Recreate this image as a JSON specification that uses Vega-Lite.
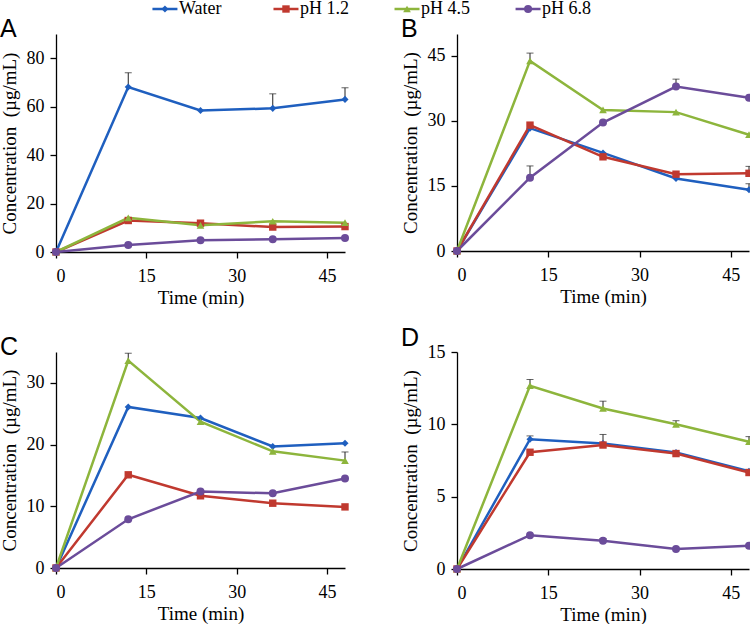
{
  "$schema": "https://vega.github.io/schema/vega-lite/v6.json",
  "background": "white",
  "padding": {"left": 0, "top": 0, "right": 0, "bottom": 0},
  "data": {
    "values": [
      {"panel": "A", "series": "Water", "time": 0, "value": 0, "err": null},
      {"panel": "A", "series": "Water", "time": 12, "value": 68.1, "err": 74.0},
      {"panel": "A", "series": "Water", "time": 24, "value": 58.4, "err": null},
      {"panel": "A", "series": "Water", "time": 36, "value": 59.3, "err": 65.3},
      {"panel": "A", "series": "Water", "time": 48, "value": 63.0, "err": 67.8},
      {"panel": "A", "series": "pH 1.2", "time": 0, "value": 0, "err": null},
      {"panel": "A", "series": "pH 1.2", "time": 12, "value": 13.0, "err": null},
      {"panel": "A", "series": "pH 1.2", "time": 24, "value": 11.9, "err": null},
      {"panel": "A", "series": "pH 1.2", "time": 36, "value": 10.3, "err": null},
      {"panel": "A", "series": "pH 1.2", "time": 48, "value": 10.5, "err": null},
      {"panel": "A", "series": "pH 4.5", "time": 0, "value": 0, "err": null},
      {"panel": "A", "series": "pH 4.5", "time": 12, "value": 14.1, "err": null},
      {"panel": "A", "series": "pH 4.5", "time": 24, "value": 11.0, "err": null},
      {"panel": "A", "series": "pH 4.5", "time": 36, "value": 12.7, "err": null},
      {"panel": "A", "series": "pH 4.5", "time": 48, "value": 12.1, "err": null},
      {"panel": "A", "series": "pH 6.8", "time": 0, "value": 0, "err": null},
      {"panel": "A", "series": "pH 6.8", "time": 12, "value": 2.9, "err": null},
      {"panel": "A", "series": "pH 6.8", "time": 24, "value": 4.8, "err": null},
      {"panel": "A", "series": "pH 6.8", "time": 36, "value": 5.3, "err": null},
      {"panel": "A", "series": "pH 6.8", "time": 48, "value": 5.75, "err": null},

      {"panel": "B", "series": "Water", "time": 0, "value": 0, "err": null},
      {"panel": "B", "series": "Water", "time": 12, "value": 28.3, "err": null},
      {"panel": "B", "series": "Water", "time": 24, "value": 22.6, "err": null},
      {"panel": "B", "series": "Water", "time": 36, "value": 16.7, "err": null},
      {"panel": "B", "series": "Water", "time": 48, "value": 14.1, "err": 15.5},
      {"panel": "B", "series": "pH 1.2", "time": 0, "value": 0, "err": null},
      {"panel": "B", "series": "pH 1.2", "time": 12, "value": 29.0, "err": null},
      {"panel": "B", "series": "pH 1.2", "time": 24, "value": 21.7, "err": null},
      {"panel": "B", "series": "pH 1.2", "time": 36, "value": 17.7, "err": null},
      {"panel": "B", "series": "pH 1.2", "time": 48, "value": 17.9, "err": 19.5},
      {"panel": "B", "series": "pH 4.5", "time": 0, "value": 0, "err": null},
      {"panel": "B", "series": "pH 4.5", "time": 12, "value": 43.8, "err": 45.6},
      {"panel": "B", "series": "pH 4.5", "time": 24, "value": 32.5, "err": null},
      {"panel": "B", "series": "pH 4.5", "time": 36, "value": 32.0, "err": null},
      {"panel": "B", "series": "pH 4.5", "time": 48, "value": 26.8, "err": null},
      {"panel": "B", "series": "pH 6.8", "time": 0, "value": 0, "err": null},
      {"panel": "B", "series": "pH 6.8", "time": 12, "value": 16.9, "err": 19.6},
      {"panel": "B", "series": "pH 6.8", "time": 24, "value": 29.6, "err": null},
      {"panel": "B", "series": "pH 6.8", "time": 36, "value": 37.9, "err": 39.6},
      {"panel": "B", "series": "pH 6.8", "time": 48, "value": 35.3, "err": null},

      {"panel": "C", "series": "Water", "time": 0, "value": 0, "err": null},
      {"panel": "C", "series": "Water", "time": 12, "value": 26.1, "err": null},
      {"panel": "C", "series": "Water", "time": 24, "value": 24.3, "err": null},
      {"panel": "C", "series": "Water", "time": 36, "value": 19.7, "err": null},
      {"panel": "C", "series": "Water", "time": 48, "value": 20.2, "err": null},
      {"panel": "C", "series": "pH 1.2", "time": 0, "value": 0, "err": null},
      {"panel": "C", "series": "pH 1.2", "time": 12, "value": 15.1, "err": null},
      {"panel": "C", "series": "pH 1.2", "time": 24, "value": 11.7, "err": null},
      {"panel": "C", "series": "pH 1.2", "time": 36, "value": 10.5, "err": null},
      {"panel": "C", "series": "pH 1.2", "time": 48, "value": 9.9, "err": null},
      {"panel": "C", "series": "pH 4.5", "time": 0, "value": 0, "err": null},
      {"panel": "C", "series": "pH 4.5", "time": 12, "value": 33.6, "err": 34.8},
      {"panel": "C", "series": "pH 4.5", "time": 24, "value": 23.7, "err": null},
      {"panel": "C", "series": "pH 4.5", "time": 36, "value": 18.9, "err": null},
      {"panel": "C", "series": "pH 4.5", "time": 48, "value": 17.4, "err": 18.8},
      {"panel": "C", "series": "pH 6.8", "time": 0, "value": 0, "err": null},
      {"panel": "C", "series": "pH 6.8", "time": 12, "value": 7.9, "err": null},
      {"panel": "C", "series": "pH 6.8", "time": 24, "value": 12.4, "err": null},
      {"panel": "C", "series": "pH 6.8", "time": 36, "value": 12.1, "err": null},
      {"panel": "C", "series": "pH 6.8", "time": 48, "value": 14.5, "err": null},

      {"panel": "D", "series": "Water", "time": 0, "value": 0, "err": null},
      {"panel": "D", "series": "Water", "time": 12, "value": 8.97, "err": 9.2},
      {"panel": "D", "series": "Water", "time": 24, "value": 8.67, "err": 9.3},
      {"panel": "D", "series": "Water", "time": 36, "value": 8.05, "err": null},
      {"panel": "D", "series": "Water", "time": 48, "value": 6.76, "err": null},
      {"panel": "D", "series": "pH 1.2", "time": 0, "value": 0, "err": null},
      {"panel": "D", "series": "pH 1.2", "time": 12, "value": 8.07, "err": null},
      {"panel": "D", "series": "pH 1.2", "time": 24, "value": 8.57, "err": null},
      {"panel": "D", "series": "pH 1.2", "time": 36, "value": 7.98, "err": null},
      {"panel": "D", "series": "pH 1.2", "time": 48, "value": 6.67, "err": null},
      {"panel": "D", "series": "pH 4.5", "time": 0, "value": 0, "err": null},
      {"panel": "D", "series": "pH 4.5", "time": 12, "value": 12.67, "err": 13.1},
      {"panel": "D", "series": "pH 4.5", "time": 24, "value": 11.1, "err": 11.6},
      {"panel": "D", "series": "pH 4.5", "time": 36, "value": 10.0, "err": 10.25},
      {"panel": "D", "series": "pH 4.5", "time": 48, "value": 8.8, "err": 9.15},
      {"panel": "D", "series": "pH 6.8", "time": 0, "value": 0, "err": null},
      {"panel": "D", "series": "pH 6.8", "time": 12, "value": 2.34, "err": null},
      {"panel": "D", "series": "pH 6.8", "time": 24, "value": 1.95, "err": 2.1},
      {"panel": "D", "series": "pH 6.8", "time": 36, "value": 1.38, "err": null},
      {"panel": "D", "series": "pH 6.8", "time": 48, "value": 1.61, "err": null}
    ]
  },
  "spacing": -1,
  "center": false,
  "vconcat": [
    {
      "width": 581, "height": 18,
      "transform": [{"filter": "datum.panel == 'A' && datum.time == 0"}],
      "encoding": {
        "x": {"field": "series", "type": "nominal", "scale": {"type": "point", "domain": ["Water", "pH 1.2", "pH 4.5", "pH 6.8"], "padding": 0.9}, "axis": null},
        "y": {"field": "value", "type": "quantitative", "scale": {"domain": [-1, 1]}, "axis": null},
        "color": {"field": "series", "type": "nominal", "scale": {"domain": ["Water", "pH 1.2", "pH 4.5", "pH 6.8"], "range": ["#1f5fbf", "#c0392f", "#8db53c", "#6b4c9a"]}, "legend": null}
      },
      "layer": [
        {"mark": {"type": "rule", "strokeWidth": 2.5, "xOffset": -12.5, "x2Offset": 12.5}, "encoding": {"x2": {"field": "series"}}},
        {"mark": {"type": "point", "filled": true, "opacity": 1},
          "encoding": {
            "shape": {"field": "series", "type": "nominal", "scale": {"domain": ["Water", "pH 1.2", "pH 4.5", "pH 6.8"], "range": ["diamond", "square", "triangle-up", "circle"]}, "legend": null},
            "size": {"field": "series", "type": "ordinal", "scale": {"domain": ["Water", "pH 1.2", "pH 4.5", "pH 6.8"], "range": [50, 64, 72, 70]}, "legend": null}
          }},
        {"mark": {"type": "text", "align": "left", "baseline": "middle", "dx": 14, "font": "Liberation Serif", "fontSize": 18}, "encoding": {"text": {"field": "series"}, "color": {"value": "black"}}}
      ]
    },
    {
      "columns": 2,
      "spacing": {"row": 19, "column": 51},
      "concat": [
        {
          "width": 289, "height": 218,
          "title": {"text": "A"},
          "transform": [{"filter": "datum.panel == 'A'"}],
          "encoding": {
            "x": {"field": "time", "type": "quantitative", "title": "Time (min)", "scale": {"domain": [0, 48], "nice": false}, "axis": {"values": [0, 15, 30, 45]}},
            "y": {"field": "value", "type": "quantitative", "title": "Concentration\u00a0\u00a0(µg/mL)", "scale": {"domain": [0, 90], "nice": false}, "axis": {"values": [0, 20, 40, 60, 80]}},
            "color": {"field": "series", "type": "nominal", "legend": null}
          },
          "layer": [
            {"transform": [{"filter": "datum.err != null"}], "mark": {"type": "rule", "strokeWidth": 1}, "encoding": {"y2": {"field": "err"}, "color": {"value": "#222222"}}},
            {"transform": [{"filter": "datum.err != null"}], "mark": {"type": "tick", "orient": "horizontal", "size": 7, "thickness": 1}, "encoding": {"y": {"field": "err", "type": "quantitative", "title": "Concentration\u00a0\u00a0(µg/mL)"}, "color": {"value": "#222222"}}},
            {"mark": {"type": "line", "strokeWidth": 2.5}},
            {"mark": {"type": "point", "filled": true, "opacity": 1},
              "encoding": {
                "shape": {"field": "series", "type": "nominal", "legend": null},
                "size": {"field": "series", "type": "ordinal", "legend": null}
              }}
          ]
        },
        {
          "width": 292, "height": 217,
          "title": {"text": "B"},
          "transform": [{"filter": "datum.panel == 'B'"}],
          "encoding": {
            "x": {"field": "time", "type": "quantitative", "title": "Time (min)", "scale": {"domain": [0, 48], "nice": false}, "axis": {"values": [0, 15, 30, 45]}},
            "y": {"field": "value", "type": "quantitative", "title": "Concentration\u00a0\u00a0(µg/mL)", "scale": {"domain": [0, 50], "nice": false}, "axis": {"values": [0, 15, 30, 45]}},
            "color": {"field": "series", "type": "nominal", "legend": null}
          },
          "layer": [
            {"transform": [{"filter": "datum.err != null"}], "mark": {"type": "rule", "strokeWidth": 1}, "encoding": {"y2": {"field": "err"}, "color": {"value": "#222222"}}},
            {"transform": [{"filter": "datum.err != null"}], "mark": {"type": "tick", "orient": "horizontal", "size": 7, "thickness": 1}, "encoding": {"y": {"field": "err", "type": "quantitative", "title": "Concentration\u00a0\u00a0(µg/mL)"}, "color": {"value": "#222222"}}},
            {"mark": {"type": "line", "strokeWidth": 2.5}},
            {"mark": {"type": "point", "filled": true, "opacity": 1},
              "encoding": {
                "shape": {"field": "series", "type": "nominal", "legend": null},
                "size": {"field": "series", "type": "ordinal", "legend": null}
              }}
          ]
        },
        {
          "width": 289, "height": 216,
          "title": {"text": "C"},
          "transform": [{"filter": "datum.panel == 'C'"}],
          "encoding": {
            "x": {"field": "time", "type": "quantitative", "title": "Time (min)", "scale": {"domain": [0, 48], "nice": false}, "axis": {"values": [0, 15, 30, 45]}},
            "y": {"field": "value", "type": "quantitative", "title": "Concentration\u00a0\u00a0(µg/mL)", "scale": {"domain": [0, 35], "nice": false}, "axis": {"values": [0, 10, 20, 30]}},
            "color": {"field": "series", "type": "nominal", "legend": null}
          },
          "layer": [
            {"transform": [{"filter": "datum.err != null"}], "mark": {"type": "rule", "strokeWidth": 1}, "encoding": {"y2": {"field": "err"}, "color": {"value": "#222222"}}},
            {"transform": [{"filter": "datum.err != null"}], "mark": {"type": "tick", "orient": "horizontal", "size": 7, "thickness": 1}, "encoding": {"y": {"field": "err", "type": "quantitative", "title": "Concentration\u00a0\u00a0(µg/mL)"}, "color": {"value": "#222222"}}},
            {"mark": {"type": "line", "strokeWidth": 2.5}},
            {"mark": {"type": "point", "filled": true, "opacity": 1},
              "encoding": {
                "shape": {"field": "series", "type": "nominal", "legend": null},
                "size": {"field": "series", "type": "ordinal", "legend": null}
              }}
          ]
        },
        {
          "width": 292, "height": 217,
          "title": {"text": "D"},
          "transform": [{"filter": "datum.panel == 'D'"}],
          "encoding": {
            "x": {"field": "time", "type": "quantitative", "title": "Time (min)", "scale": {"domain": [0, 48], "nice": false}, "axis": {"values": [0, 15, 30, 45]}},
            "y": {"field": "value", "type": "quantitative", "title": "Concentration\u00a0\u00a0(µg/mL)", "scale": {"domain": [0, 15], "nice": false}, "axis": {"values": [0, 5, 10, 15]}},
            "color": {"field": "series", "type": "nominal", "legend": null}
          },
          "layer": [
            {"transform": [{"filter": "datum.err != null"}], "mark": {"type": "rule", "strokeWidth": 1}, "encoding": {"y2": {"field": "err"}, "color": {"value": "#222222"}}},
            {"transform": [{"filter": "datum.err != null"}], "mark": {"type": "tick", "orient": "horizontal", "size": 7, "thickness": 1}, "encoding": {"y": {"field": "err", "type": "quantitative", "title": "Concentration\u00a0\u00a0(µg/mL)"}, "color": {"value": "#222222"}}},
            {"mark": {"type": "line", "strokeWidth": 2.5}},
            {"mark": {"type": "point", "filled": true, "opacity": 1},
              "encoding": {
                "shape": {"field": "series", "type": "nominal", "legend": null},
                "size": {"field": "series", "type": "ordinal", "legend": null}
              }}
          ]
        }
      ]
    }
  ],
  "resolve": {"scale": {"x": "independent", "y": "independent", "color": "shared", "shape": "shared", "size": "shared"}},
  "config": {
    "view": {"stroke": null},
    "title": {"anchor": "start", "frame": "bounds", "font": "Liberation Sans", "fontSize": 25, "fontWeight": "normal", "color": "black", "baseline": "alphabetic", "offset": -8},
    "axis": {"grid": false, "domainColor": "black", "domainWidth": 1.3, "tickColor": "black", "tickWidth": 1.3, "tickSize": 6,
      "labelFont": "Liberation Serif", "labelFontSize": 18, "labelColor": "black", "labelPadding": 9,
      "titleFont": "Liberation Serif", "titleFontSize": 19, "titleFontWeight": "normal", "titleColor": "black", "titlePadding": 3},
    "axisY": {"titlePadding": 7, "labelPadding": 6}
  }
}
